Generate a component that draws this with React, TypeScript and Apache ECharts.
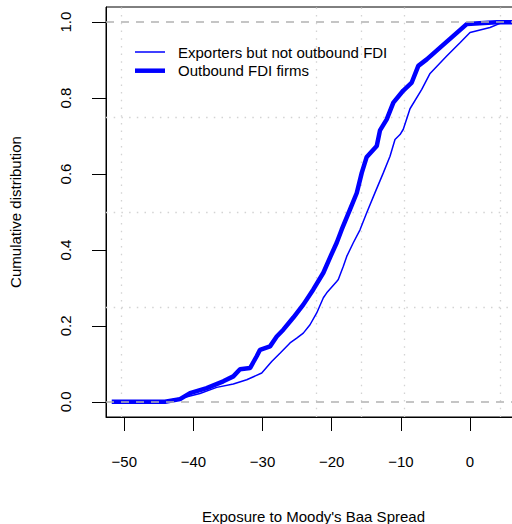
import React, { useEffect, useRef } from "react";
import * as echarts from "echarts";

// Exporters but not outbound FDI (thin line): [exposure, cumulative share]
const exportersX = [-50.37, -44.11, -41.2, -39.05, -36.63, -34.23, -32.29, -30.12, -28.68, -27.48, -26.03, -25.06, -24.11, -23.14, -22.17, -21.21, -20.72, -19.28, -19.05, -18.32, -17.83, -16.88, -15.91, -14.94, -13.74, -12.54, -11.57, -10.85, -10.12, -9.65, -8.68, -6.98, -5.78, -3.37, -1.45, 0.0, 2.89, 4.34, 4.44, 7.3];
const exportersY = [0.0, 0.002, 0.012, 0.022, 0.038, 0.047, 0.058, 0.076, 0.106, 0.128, 0.155, 0.168, 0.181, 0.203, 0.234, 0.274, 0.287, 0.317, 0.322, 0.357, 0.383, 0.419, 0.453, 0.498, 0.551, 0.603, 0.647, 0.691, 0.704, 0.718, 0.772, 0.823, 0.865, 0.911, 0.946, 0.973, 0.986, 0.997, 1.0, 1.0];

// Outbound FDI firms (thick line)
const fdiX = [-51.81, -44.11, -41.94, -40.49, -38.08, -35.68, -34.23, -33.26, -31.81, -30.85, -30.37, -28.92, -27.95, -27.0, -25.55, -24.11, -22.66, -21.21, -20.25, -19.28, -18.55, -17.35, -16.38, -15.66, -14.94, -13.49, -13.02, -12.05, -11.09, -9.65, -8.43, -7.48, -6.26, -4.34, -2.41, -0.48, 3.86, 7.3];
const fdiY = [0.0, 0.0, 0.007, 0.023, 0.036, 0.054, 0.067, 0.086, 0.089, 0.12, 0.137, 0.146, 0.172, 0.19, 0.222, 0.256, 0.296, 0.34, 0.38, 0.419, 0.454, 0.507, 0.55, 0.603, 0.645, 0.674, 0.715, 0.744, 0.788, 0.82, 0.841, 0.885, 0.902, 0.933, 0.964, 0.995, 1.0, 1.0];

// Dotted reference lines
const quantileX = [-50.37, -22.17, -15.66, -9.54, 4.44];
const quantileY = [0.25, 0.5, 0.75];
const boundY = [0, 1];

const xTicks = [-50, -40, -30, -20, -10, 0];
const yTicks = [0, 0.2, 0.4, 0.6, 0.8, 1.0];

const seriesNames = ["Exporters but not outbound FDI", "Outbound FDI firms"];
const xTitle = "Exposure to Moody's Baa Spread";
const yTitle = "Cumulative distribution";

const FONT = "'Liberation Sans', Arial, Helvetica, sans-serif";

function zip(xs: number[], ys: number[]) {
  return xs.map((x, i) => [x, ys[i]]);
}

export default function App() {
  const ref = useRef<HTMLDivElement>(null);
  useEffect(() => {
    if (!ref.current) return;
    const chart = echarts.init(ref.current, undefined, { renderer: "svg" });
    const dotted = { color: "#d3d3d3", type: [1.5, 6.2] as any, width: 1.3 };
    chart.setOption({
      animation: false,
      backgroundColor: "#ffffff",
      textStyle: { fontFamily: FONT },
      grid: {
        left: 106,
        top: 7,
        width: 415,
        height: 410,
        outerBoundsMode: "none",
        containLabel: false,
        show: true,
        borderColor: "#000000",
        borderWidth: 1,
        backgroundColor: "transparent",
      },
      legend: {
        orient: "vertical",
        left: 135,
        top: 44.5,
        itemWidth: 30,
        itemHeight: 14,
        itemGap: 3.7,
        padding: 0,
        symbolKeepAspect: true,
        itemStyle: { borderWidth: 0, color: "#0000ff" },
        data: [
          { name: seriesNames[0], icon: "path://M0 0H30V1.5H0Z" },
          { name: seriesNames[1], icon: "path://M0 0H30V4.5H0Z" },
        ],
        textStyle: { fontSize: 15, color: "#000", fontFamily: FONT, padding: [0, 0, 0, 8] },
      },
      xAxis: {
        type: "value",
        position: "bottom",
        min: -52.64,
        max: 7.37,
        axisLine: { show: true, onZero: false, lineStyle: { color: "#000", width: 1 } },
        splitLine: { show: false },
        axisTick: { show: true, length: 14, inside: false, customValues: xTicks, lineStyle: { color: "#000", width: 1 } },
        axisLabel: {
          customValues: xTicks,
          margin: 37,
          fontSize: 15,
          color: "#000",
          fontFamily: FONT,
          formatter: (v: number) => (v < 0 ? "\u2212" + Math.abs(v) : String(v)),
        },
        name: xTitle,
        nameLocation: "middle",
        nameGap: 91.5,
        nameTextStyle: { fontSize: 15, color: "#000", fontFamily: FONT },
      },
      yAxis: {
        type: "value",
        position: "left",
        min: -0.04,
        max: 1.04,
        axisLine: { show: true, onZero: false, lineStyle: { color: "#000", width: 1 } },
        splitLine: { show: false },
        axisTick: { show: true, length: 14, inside: false, customValues: yTicks, lineStyle: { color: "#000", width: 1 } },
        axisLabel: {
          customValues: yTicks,
          rotate: 90,
          margin: 33.5,
          fontSize: 15,
          color: "#000",
          fontFamily: FONT,
          formatter: (v: number) => v.toFixed(1),
        },
        name: yTitle,
        nameLocation: "middle",
        nameGap: 83.5,
        nameTextStyle: { fontSize: 15, color: "#000", fontFamily: FONT },
      },
      series: [
        {
          name: "grid",
          type: "line",
          data: [],
          silent: true,
          z: 1,
          markLine: {
            silent: true,
            z: 1,
            symbol: "none",
            label: { show: false },
            lineStyle: dotted,
            data: [
              ...quantileX.map((v) => ({ xAxis: v })),
              ...quantileY.map((v) => ({ yAxis: v })),
            ],
          },
        },
        {
          name: seriesNames[0],
          type: "line",
          data: zip(exportersX, exportersY),
          showSymbol: false,
          symbol: "none",
          z: 3,
          lineStyle: { color: "#0000ff", width: 1.5 },
          itemStyle: { color: "#0000ff" },
        },
        {
          name: seriesNames[1],
          type: "line",
          data: zip(fdiX, fdiY),
          showSymbol: false,
          symbol: "none",
          z: 4,
          lineStyle: { color: "#0000ff", width: 4.5 },
          itemStyle: { color: "#0000ff" },
          markLine: {
            silent: true,
            z: 6,
            symbol: "none",
            label: { show: false },
            lineStyle: { color: "#b3b3b3", type: [8, 7] as any, width: 1.5 },
            data: boundY.map((v) => ({ yAxis: v })),
          },
        },
      ],
    });
    return () => chart.dispose();
  }, []);
  return (
    <div
      ref={ref}
      style={{ position: "fixed", left: 0, top: 0, width: 540, height: 524, background: "#fff" }}
    />
  );
}
